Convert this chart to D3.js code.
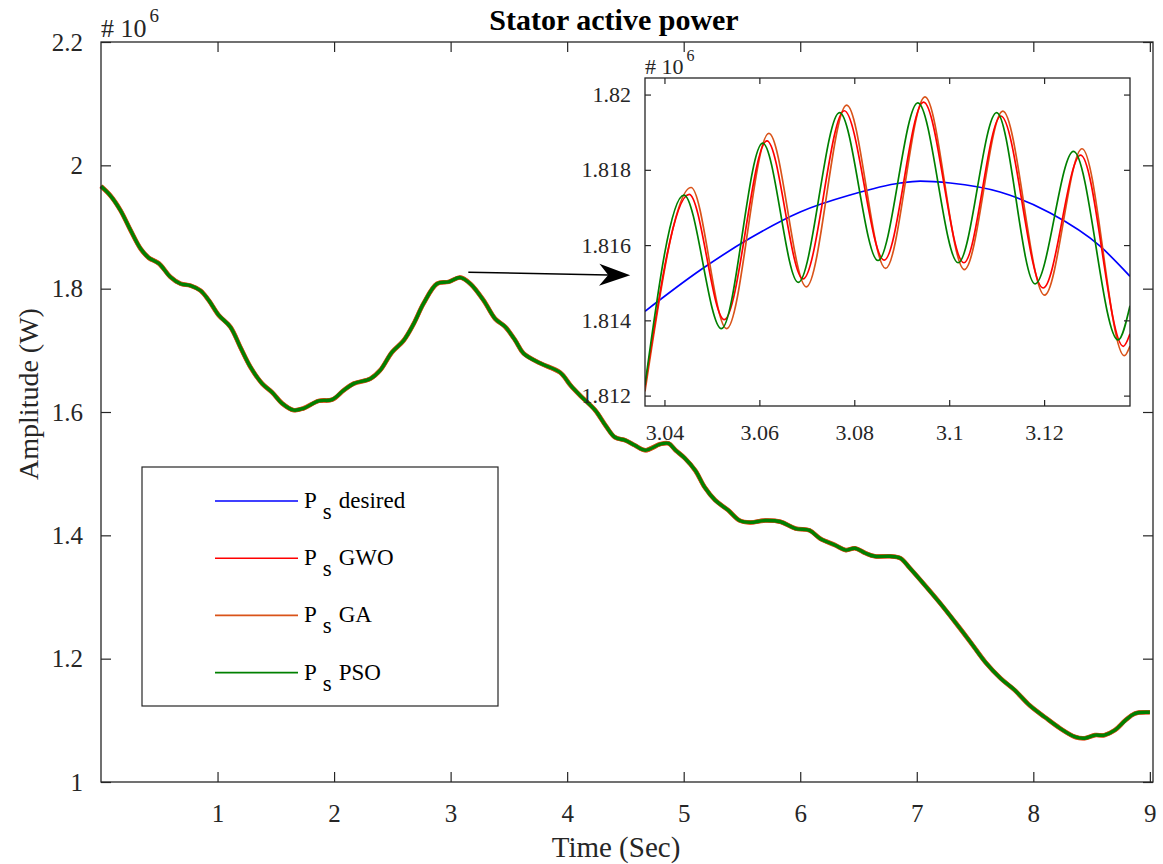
<!DOCTYPE html>
<html>
<head>
<meta charset="utf-8">
<script src="https://cdn.jsdelivr.net/npm/d3@7"></script>
<style>
    body { margin: 0; background: #fff; }
</style>
</head>
<body>
<div id="vis-container"></div>
<script>
// Main view: time (s) and power (x 10^6 W), all four series overlap at this scale
const mainTime = [0, 0.08, 0.167, 0.253, 0.339, 0.41, 0.496, 0.596, 0.682, 0.768, 0.853, 0.925, 1.01, 1.11, 1.196, 1.282, 1.383, 1.468, 1.554, 1.654, 1.739, 1.868, 1.983, 2.082, 2.168, 2.311, 2.397, 2.497, 2.597, 2.683, 2.768, 2.883, 2.983, 3.083, 3.169, 3.283, 3.383, 3.469, 3.555, 3.626, 3.769, 3.94, 4.03, 4.11, 4.24, 4.33, 4.41, 4.50, 4.58, 4.67, 4.80, 4.87, 4.93, 5.01, 5.10, 5.18, 5.27, 5.38, 5.48, 5.57, 5.70, 5.83, 5.96, 6.08, 6.17, 6.30, 6.39, 6.47, 6.56, 6.64, 6.77, 6.86, 6.94, 7.07, 7.20, 7.33, 7.46, 7.59, 7.72, 7.84, 7.97, 8.10, 8.23, 8.36, 8.44, 8.53, 8.61, 8.70, 8.79, 8.87, 9.0];
const mainPower = [1.966, 1.951, 1.927, 1.895, 1.865, 1.850, 1.841, 1.819, 1.808, 1.805, 1.797, 1.781, 1.757, 1.738, 1.705, 1.673, 1.646, 1.632, 1.614, 1.603, 1.606, 1.618, 1.620, 1.635, 1.646, 1.654, 1.668, 1.697, 1.716, 1.743, 1.776, 1.808, 1.811, 1.818, 1.808, 1.781, 1.751, 1.738, 1.716, 1.695, 1.679, 1.664, 1.643, 1.627, 1.603, 1.578, 1.559, 1.554, 1.546, 1.538, 1.548, 1.549, 1.538, 1.525, 1.505, 1.478, 1.457, 1.441, 1.424, 1.421, 1.424, 1.422, 1.411, 1.408, 1.395, 1.384, 1.376, 1.379, 1.371, 1.366, 1.366, 1.363, 1.347, 1.319, 1.290, 1.259, 1.227, 1.194, 1.168, 1.149, 1.124, 1.105, 1.087, 1.073, 1.071, 1.076, 1.076, 1.084, 1.100, 1.111, 1.113];

// Zoomed view (inset)
const desiredTime = [3.0359, 3.0475, 3.0580, 3.0686, 3.0791, 3.0897, 3.0939, 3.1002, 3.1107, 3.1213, 3.1318, 3.1381];
const desiredPower = [1.81424, 1.81533, 1.81618, 1.81688, 1.81733, 1.81765, 1.81770, 1.81765, 1.81741, 1.81685, 1.81597, 1.81517];

const gwoTime = [3.0359, 3.0452, 3.0526, 3.0616, 3.0692, 3.0779, 3.0863, 3.0946, 3.1031, 3.1109, 3.1198, 3.1277, 3.1367, 3.1381];
const gwoPower = [1.81224, 1.81735, 1.81402, 1.81877, 1.81510, 1.81957, 1.81560, 1.81980, 1.81553, 1.81943, 1.81486, 1.81839, 1.81331, 1.81364];

const gaTime = [3.0359, 3.0456, 3.0531, 3.0620, 3.0699, 3.0784, 3.0866, 3.0949, 3.1032, 3.1113, 3.1201, 3.1280, 3.1369, 3.1381];
const gaPower = [1.81211, 1.81753, 1.81378, 1.81897, 1.81489, 1.81972, 1.81538, 1.81994, 1.81535, 1.81956, 1.81467, 1.81856, 1.81306, 1.81332];

const psoTime = [3.0359, 3.0441, 3.0520, 3.0607, 3.0682, 3.0769, 3.0850, 3.0934, 3.1019, 3.1100, 3.1181, 3.1262, 3.1356, 3.1381];
const psoPower = [1.81228, 1.81733, 1.81378, 1.81871, 1.81501, 1.81952, 1.81559, 1.81978, 1.81553, 1.81952, 1.81497, 1.81849, 1.81348, 1.81439];

// Ticks and labels
const mainXTicks = [1, 2, 3, 4, 5, 6, 7, 8, 9];
const mainYTicks = [1, 1.2, 1.4, 1.6, 1.8, 2, 2.2];
const insetXTicks = [3.04, 3.06, 3.08, 3.1, 3.12];
const insetYTicks = [1.812, 1.814, 1.816, 1.818, 1.82];
const seriesNames = ["desired", "GWO", "GA", "PSO"];
const seriesColors = ["#0000ff", "#ff0000", "#d95319", "#008000"];

const serif = "'Liberation Serif', 'Times New Roman', serif";

function main()
{
    const width = 1163;
    const height = 864;
    const axisColor = "#262626";

    // Main plot box
    const box = { left: 101, right: 1153, top: 42, bottom: 782 };
    // Inset box
    const inset = { left: 645, right: 1130, top: 78, bottom: 406 };

    const svg = d3.select("#vis-container")
        .append("svg")
        .attr("width", width)
        .attr("height", height)
        .style("font-family", serif);

    svg.append("rect").attr("width", width).attr("height", height).attr("fill", "#fff");

    // Scales
    const xScale = d3.scaleLinear().domain([0, 9.027]).range([box.left, box.right]);
    const yScale = d3.scaleLinear().domain([1, 2.2]).range([box.bottom, box.top]);

    const xInset = d3.scaleLinear().domain([3.0359, 3.1381]).range([inset.left, inset.right]);
    const yInset = d3.scaleLinear().domain([1.811724, 1.82044]).range([inset.bottom, inset.top]);

    // Main curves (same trajectory, stacked widths mimic the thin ripple band)
    const mainLine = d3.line()
        .x((d, i) => xScale(mainTime[i]))
        .y(d => yScale(d))
        .curve(d3.curveCatmullRom);

    const mainWidths = [1.5, 4.0, 4.6, 3.4];
    seriesColors.forEach((c, k) => {
        svg.append("path")
            .attr("d", mainLine(mainPower))
            .attr("fill", "none")
            .attr("stroke", c)
            .attr("stroke-width", mainWidths[k])
            .attr("stroke-linejoin", "round");
    });

    // Main axes with inward ticks
    const gx = svg.append("g")
        .attr("transform", `translate(0, ${box.bottom})`)
        .call(d3.axisBottom(xScale).tickValues(mainXTicks).tickSize(-10).tickPadding(22).tickFormat(d3.format("")));
    const gxTop = svg.append("g")
        .attr("transform", `translate(0, ${box.top})`)
        .call(d3.axisTop(xScale).tickValues(mainXTicks).tickSize(-10).tickFormat(""));
    const gy = svg.append("g")
        .attr("transform", `translate(${box.left}, 0)`)
        .call(d3.axisLeft(yScale).tickValues(mainYTicks).tickSize(-10).tickPadding(18).tickFormat(d => String(+d.toFixed(1))));
    const gyRight = svg.append("g")
        .attr("transform", `translate(${box.right}, 0)`)
        .call(d3.axisRight(yScale).tickValues(mainYTicks).tickSize(-10).tickFormat(""));

    [gx, gxTop, gy, gyRight].forEach(g => {
        g.attr("font-family", null);
        g.select(".domain").remove();
        g.selectAll(".tick line").attr("stroke", axisColor).attr("stroke-width", 1.2);
        g.selectAll("text")
            .style("font-family", serif)
            .style("font-size", "25px")
            .attr("fill", axisColor);
    });

    svg.append("rect")
        .attr("x", box.left).attr("y", box.top)
        .attr("width", box.right - box.left).attr("height", box.bottom - box.top)
        .attr("fill", "none").attr("stroke", axisColor).attr("stroke-width", 1.3);

    // Exponent label
    const expMain = svg.append("text")
        .attr("x", box.left)
        .attr("y", 37)
        .attr("fill", axisColor)
        .style("font-size", "26px");
    expMain.append("tspan").text("# 10");
    expMain.append("tspan").attr("dy", -15).attr("dx", 3).style("font-size", "19px").text("6");

    // Title and axis labels
    svg.append("text")
        .attr("x", 614).attr("y", 30)
        .attr("text-anchor", "middle")
        .style("font-size", "30px")
        .style("font-weight", "bold")
        .attr("fill", "#000")
        .text("Stator active power");

    svg.append("text")
        .attr("x", 616).attr("y", 857)
        .attr("text-anchor", "middle")
        .attr("fill", axisColor)
        .style("font-size", "29px")
        .text("Time (Sec)");

    svg.append("text")
        .attr("transform", "translate(38, 394) rotate(-90)")
        .attr("text-anchor", "middle")
        .attr("fill", axisColor)
        .style("font-size", "28px")
        .text("Amplitude (W)");

    // Legend
    const legend = svg.append("g");
    legend.append("rect")
        .attr("x", 142).attr("y", 467)
        .attr("width", 356).attr("height", 239)
        .attr("fill", "#fff").attr("stroke", axisColor).attr("stroke-width", 1.2);

    seriesNames.forEach((name, k) => {
        const ly = 501 + k * 57.2;
        legend.append("line")
            .attr("x1", 215).attr("x2", 298)
            .attr("y1", ly).attr("y2", ly)
            .attr("stroke", seriesColors[k]).attr("stroke-width", 1.6);
        const t = legend.append("text")
            .attr("x", 304).attr("y", ly + 7)
            .style("font-size", "23px")
            .attr("fill", "#000");
        t.append("tspan").text("P");
        t.append("tspan").attr("dx", 6).attr("dy", 11).text("s");
        t.append("tspan").attr("dx", 7).attr("dy", -11).text(name);
    });

    // Arrow pointing to the inset
    const aFrom = [xScale(3.152), yScale(1.8266)];
    const aTo = [xScale(4.541), yScale(1.8216)];
    const ang = Math.atan2(aTo[1] - aFrom[1], aTo[0] - aFrom[0]);
    const pt = (along, across) => [
        aTo[0] + along * Math.cos(ang) - across * Math.sin(ang),
        aTo[1] + along * Math.sin(ang) + across * Math.cos(ang)
    ];
    svg.append("line")
        .attr("x1", aFrom[0]).attr("y1", aFrom[1])
        .attr("x2", pt(-22, 0)[0]).attr("y2", pt(-22, 0)[1])
        .attr("stroke", "#000").attr("stroke-width", 1.6);
    svg.append("path")
        .attr("d", d3.line()([aTo, pt(-31, -11), pt(-22, 0), pt(-31, 11)]) + "Z")
        .attr("fill", "#000");

    // Inset panel
    svg.append("rect")
        .attr("x", inset.left).attr("y", inset.top)
        .attr("width", inset.right - inset.left).attr("height", inset.bottom - inset.top)
        .attr("fill", "#fff");

    svg.append("clipPath").attr("id", "inset-clip")
        .append("rect")
        .attr("x", inset.left).attr("y", inset.top)
        .attr("width", inset.right - inset.left).attr("height", inset.bottom - inset.top);

    const insetLines = svg.append("g").attr("clip-path", "url(#inset-clip)");

    const insetSeries = [
        [desiredTime, desiredPower],
        [gwoTime, gwoPower],
        [gaTime, gaPower],
        [psoTime, psoPower]
    ];
    const drawOrder = [0, 2, 1, 3];
    drawOrder.forEach(k => {
        const [ts, vs] = insetSeries[k];
        const line = d3.line()
            .x((d, i) => xInset(ts[i]))
            .y(d => yInset(d))
            .curve(d3.curveMonotoneX);
        insetLines.append("path")
            .attr("d", line(vs))
            .attr("fill", "none")
            .attr("stroke", seriesColors[k])
            .attr("stroke-width", 1.7);
    });

    const ix = svg.append("g")
        .attr("transform", `translate(0, ${inset.bottom})`)
        .call(d3.axisBottom(xInset).tickValues(insetXTicks).tickSize(-6).tickPadding(18).tickFormat(d => String(+d.toFixed(2))));
    const ixTop = svg.append("g")
        .attr("transform", `translate(0, ${inset.top})`)
        .call(d3.axisTop(xInset).tickValues(insetXTicks).tickSize(-6).tickFormat(""));
    const iy = svg.append("g")
        .attr("transform", `translate(${inset.left}, 0)`)
        .call(d3.axisLeft(yInset).tickValues(insetYTicks).tickSize(-6).tickPadding(14).tickFormat(d => String(+d.toFixed(3))));
    const iyRight = svg.append("g")
        .attr("transform", `translate(${inset.right}, 0)`)
        .call(d3.axisRight(yInset).tickValues(insetYTicks).tickSize(-6).tickFormat(""));

    [ix, ixTop, iy, iyRight].forEach(g => {
        g.attr("font-family", null);
        g.select(".domain").remove();
        g.selectAll(".tick line").attr("stroke", axisColor).attr("stroke-width", 1.2);
        g.selectAll("text")
            .style("font-family", serif)
            .style("font-size", "22px")
            .attr("fill", axisColor);
    });

    svg.append("rect")
        .attr("x", inset.left).attr("y", inset.top)
        .attr("width", inset.right - inset.left).attr("height", inset.bottom - inset.top)
        .attr("fill", "none").attr("stroke", axisColor).attr("stroke-width", 1.3);

    const expInset = svg.append("text")
        .attr("x", inset.left)
        .attr("y", 74)
        .attr("fill", axisColor)
        .style("font-size", "22px");
    expInset.append("tspan").text("# 10");
    expInset.append("tspan").attr("dy", -13).attr("dx", 3).style("font-size", "16px").text("6");
}

document.addEventListener("DOMContentLoaded", main);
</script>
</body>
</html>
